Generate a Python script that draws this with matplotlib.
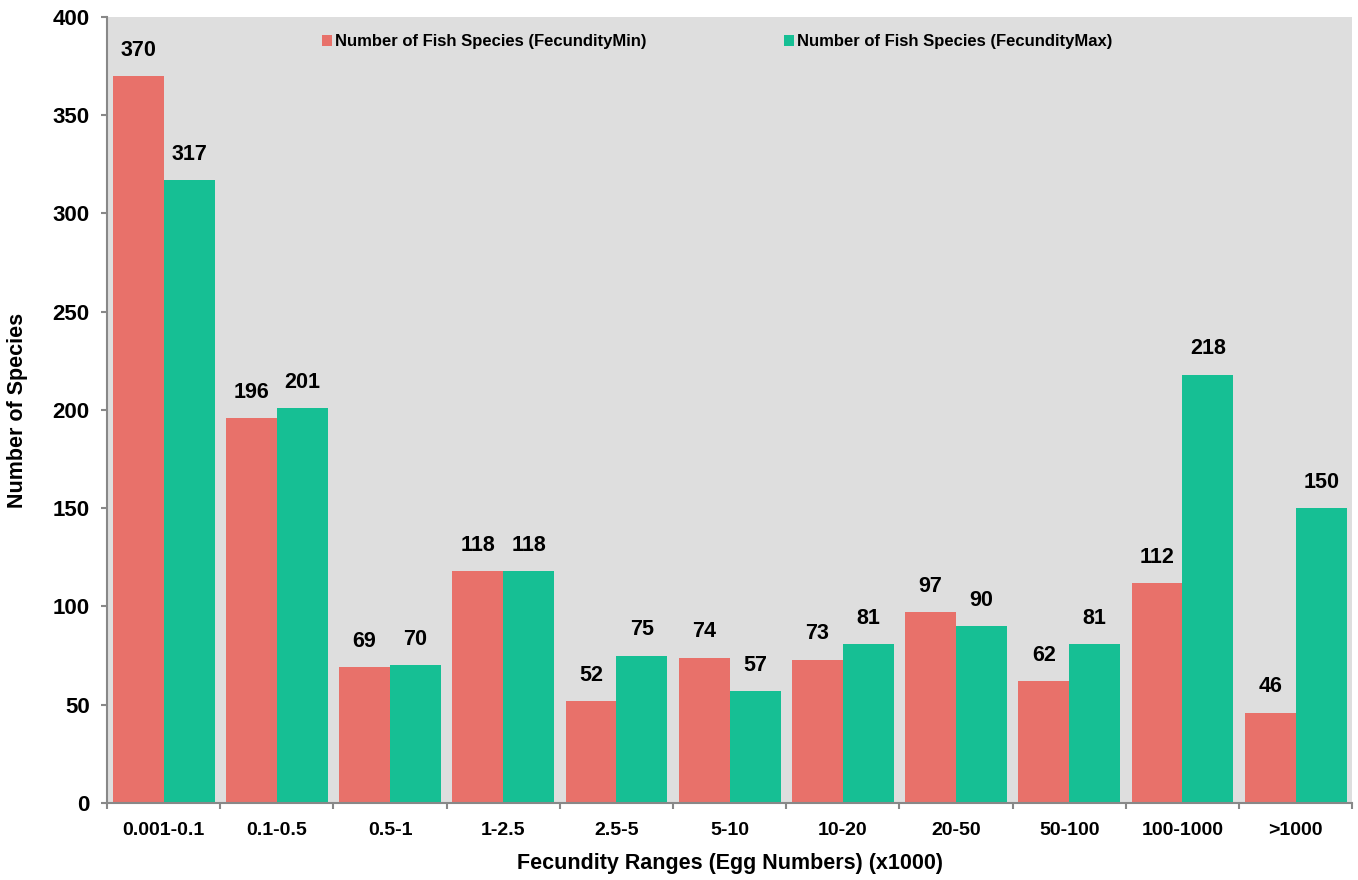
import numpy as np
import matplotlib.pyplot as plt

#
# Datos: número de especies por rango de fecundidad
#
ranges = ["0.001-0.1", "0.1-0.5", "0.5-1", "1-2.5", "2.5-5", "5-10",
          "10-20", "20-50", "50-100", "100-1000", ">1000"]
fecundity_min = [370, 196, 69, 118, 52, 74, 73, 97, 62, 112, 46]
fecundity_max = [317, 201, 70, 118, 75, 57, 81, 90, 81, 218, 150]

red = "#e8716a"
green = "#16bf94"

plt.rcParams["font.family"] = ["Liberation Sans", "DejaVu Sans"]

fig = plt.figure(figsize=(13.58, 8.8), dpi=100)
ax = fig.add_axes([0.0788, 0.0875, 0.917, 0.8932])
ax.set_facecolor("#dedede")

x = np.arange(len(ranges))
w = 0.45
b1 = ax.bar(x - w / 2, fecundity_min, w, color=red,
            label="Number of Fish Species (FecundityMin)")
b2 = ax.bar(x + w / 2, fecundity_max, w, color=green,
            label="Number of Fish Species (FecundityMax)")

for bars, vals in [(b1, fecundity_min), (b2, fecundity_max)]:
    for rect, v in zip(bars, vals):
        ax.annotate(str(v), (rect.get_x() + rect.get_width() / 2, v),
                    xytext=(0, 11), textcoords="offset points",
                    ha="center", va="bottom", fontsize=15.5,
                    fontweight="bold")

ax.set_xlim(-0.5, len(ranges) - 0.5)
ax.set_ylim(0, 400)
ax.set_yticks(np.arange(0, 401, 50))

# etiquetas centradas, marcas entre categorías
ax.set_xticks(x)
ax.set_xticklabels(ranges, fontsize=14, fontweight="bold")
ax.tick_params(axis="x", length=0, pad=14)
ax.set_xticks(np.arange(-0.5, len(ranges)), minor=True)
ax.tick_params(axis="x", which="minor", length=4, width=1.5, color="#888888",
               direction="out")
ax.tick_params(axis="y", length=4.5, width=1.5, color="#888888", labelsize=16,
               pad=8)
for lbl in ax.get_yticklabels():
    lbl.set_fontweight("bold")

for side in ["top", "right"]:
    ax.spines[side].set_visible(False)
for side in ["left", "bottom"]:
    ax.spines[side].set_color("#888888")
    ax.spines[side].set_linewidth(1.5)

ax.set_xlabel("Fecundity Ranges (Egg Numbers) (x1000)", fontsize=15.5,
              fontweight="bold", labelpad=10)
ax.set_ylabel("Number of Species", fontsize=15.5, fontweight="bold",
              labelpad=18)

ax.legend(loc="upper center", bbox_to_anchor=(0.49, 0.997), ncol=2,
          frameon=False, handlelength=0.6, handleheight=0.6,
          handletextpad=0.2, columnspacing=8.2,
          prop={"weight": "bold", "size": 12})

fig.savefig("out.png", dpi=100)
